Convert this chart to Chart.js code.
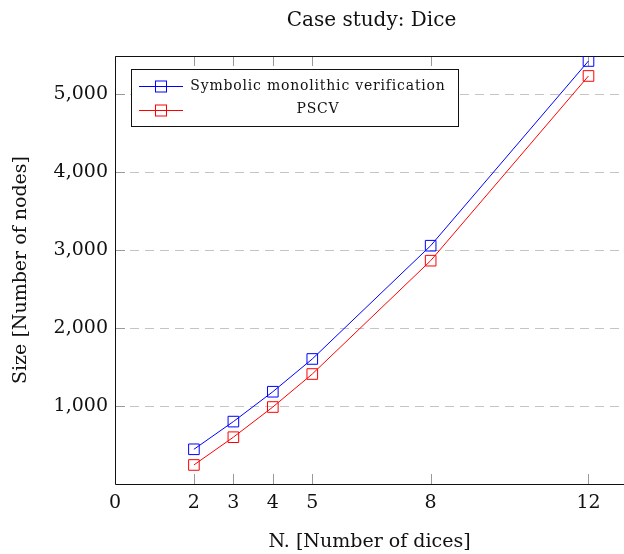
<!DOCTYPE html>
<html><head><meta charset="utf-8">
<script src="https://cdn.jsdelivr.net/npm/chart.js@4/dist/chart.umd.min.js"></script>
<style>html,body{margin:0;padding:0;background:#fff;overflow:hidden}canvas{display:block}</style>
</head><body>
<canvas id="c" width="624" height="554"></canvas>
<script>
const chartTitle = 'Case study: Dice';
const xTitle = 'N. [Number of dices]';
const yTitle = 'Size [Number of nodes]';
const dices = [2, 3, 4, 5, 8, 12];
const symbolicNodes = [445, 800, 1183, 1603, 3055, 5423];
const pscvNodes = [244, 600, 987, 1410, 2863, 5231];
const seriesNames = ['Symbolic monolithic verification', 'PSCV'];
const seriesColors = ['#0000ff', '#ff0000'];
const xTickValues = [0, 2, 3, 4, 5, 8, 12];
const yTickValues = [1000, 2000, 3000, 4000, 5000];
const xAxisMin = 0, xAxisMax = 12.9, xAxisFullMax = 13, yAxisMin = 0, yAxisMax = 5487;

const SERIF = '"DejaVu Serif", serif';

const framePlugin = {
  id: 'frame',
  beforeDatasetsDraw(chart) {
    const { ctx, chartArea: a, scales: { x, y } } = chart;
    ctx.save();
    ctx.strokeStyle = '#c4c4c4'; ctx.lineWidth = 1; ctx.setLineDash([9, 6]);
    yTickValues.forEach(v => {
      const py = Math.round(y.getPixelForValue(v)) + 0.5;
      ctx.beginPath(); ctx.moveTo(a.left, py); ctx.lineTo(a.right, py); ctx.stroke();
    });
    ctx.setLineDash([]);
    ctx.strokeStyle = '#9a9a9a';
    xTickValues.forEach(v => {
      const px = Math.round(x.getPixelForValue(v)) + 0.5;
      ctx.beginPath(); ctx.moveTo(px, a.bottom); ctx.lineTo(px, a.bottom - 10); ctx.stroke();
      ctx.beginPath(); ctx.moveTo(px, a.top); ctx.lineTo(px, a.top + 10); ctx.stroke();
    });
    yTickValues.forEach(v => {
      const py = Math.round(y.getPixelForValue(v)) + 0.5;
      ctx.beginPath(); ctx.moveTo(a.left, py); ctx.lineTo(a.left + 10, py); ctx.stroke();
    });
    ctx.strokeStyle = '#111'; ctx.lineWidth = 1;
    const l = Math.round(a.left) + 0.5, t = Math.round(a.top) + 0.5, b = Math.round(a.bottom) + 0.5;
    ctx.beginPath(); ctx.moveTo(a.right, t); ctx.lineTo(l, t); ctx.lineTo(l, b); ctx.lineTo(a.right, b); ctx.stroke();
    ctx.restore();
  },
  afterDraw(chart) {
    const { ctx, chartArea: a, scales: { x } } = chart;
    ctx.save();
    ctx.fillStyle = '#111';
    ctx.font = '20px ' + SERIF;
    ctx.textAlign = 'center'; ctx.textBaseline = 'middle';
    ctx.fillText(chartTitle, (a.left + x.getPixelForValue(xAxisFullMax)) / 2, 21);
    // legend
    const bx = 131.5, by = 69.5, bw = 327, bh = 57;
    ctx.fillStyle = '#fff'; ctx.fillRect(bx, by, bw, bh);
    ctx.strokeStyle = '#111'; ctx.lineWidth = 1; ctx.strokeRect(bx, by, bw, bh);
    const rows = [86, 109.5];
    chart.data.datasets.forEach((ds, i) => {
      const ry = Math.round(rows[i]) + 0.5;
      ctx.strokeStyle = ds.borderColor; ctx.lineWidth = 1;
      ctx.beginPath(); ctx.moveTo(139, ry); ctx.lineTo(183, ry); ctx.stroke();
      ctx.strokeRect(155.5, ry - 5.5, 11, 11);
      ctx.fillStyle = '#111';
      ctx.font = '14px ' + SERIF;
      try { ctx.letterSpacing = '0.8px'; } catch (e) {}
      ctx.textAlign = 'center'; ctx.textBaseline = 'middle';
      ctx.fillText(ds.label, 318, rows[i]);
      try { ctx.letterSpacing = '0px'; } catch (e) {}
    });
    ctx.restore();
  }
};

const makeSeries = vals => dices.map((d, i) => ({ x: d, y: vals[i] }));

new Chart(document.getElementById('c'), {
  type: 'line',
  data: {
    datasets: [
      { label: seriesNames[0], data: makeSeries(symbolicNodes), borderColor: seriesColors[0], backgroundColor: 'rgba(0,0,0,0)',
        borderWidth: 1, pointStyle: 'rect', pointRadius: 7.5, pointBorderWidth: 1, pointBackgroundColor: 'rgba(0,0,0,0)', tension: 0 },
      { label: seriesNames[1], data: makeSeries(pscvNodes), borderColor: seriesColors[1], backgroundColor: 'rgba(0,0,0,0)',
        borderWidth: 1, pointStyle: 'rect', pointRadius: 7.5, pointBorderWidth: 1, pointBackgroundColor: 'rgba(0,0,0,0)', tension: 0 }
    ]
  },
  options: {
    responsive: false, animation: false, devicePixelRatio: 1,
    layout: { autoPadding: false, padding: { top: 56, right: 0, left: 0, bottom: 0 } },
    plugins: { legend: { display: false }, title: { display: false }, tooltip: { enabled: false } },
    scales: {
      x: {
        type: 'linear', min: xAxisMin, max: xAxisMax,
        grid: { display: false, drawTicks: false }, border: { display: false },
        afterBuildTicks: s => { s.ticks = xTickValues.map(v => ({ value: v })); },
        afterFit: s => { s.height = 70; },
        ticks: { padding: 8, color: '#111', font: { family: SERIF, size: 19 }, maxRotation: 0, autoSkip: false, callback: v => String(v) },
        title: { display: true, text: xTitle, color: '#111', font: { family: SERIF, size: 19 }, padding: { top: 0, bottom: 1 } }
      },
      y: {
        type: 'linear', min: yAxisMin, max: yAxisMax,
        grid: { display: false, drawTicks: false }, border: { display: false },
        afterBuildTicks: s => { s.ticks = yTickValues.map(v => ({ value: v })); },
        afterFit: s => { s.width = 115; },
        ticks: { padding: 7, color: '#111', font: { family: SERIF, size: 19 }, autoSkip: false, callback: v => v.toLocaleString('en-US') },
        title: { display: true, text: yTitle, color: '#111', font: { family: SERIF, size: 19 }, padding: { top: 10, bottom: 0 } }
      }
    }
  },
  plugins: [framePlugin]
});
</script>
</body></html>
